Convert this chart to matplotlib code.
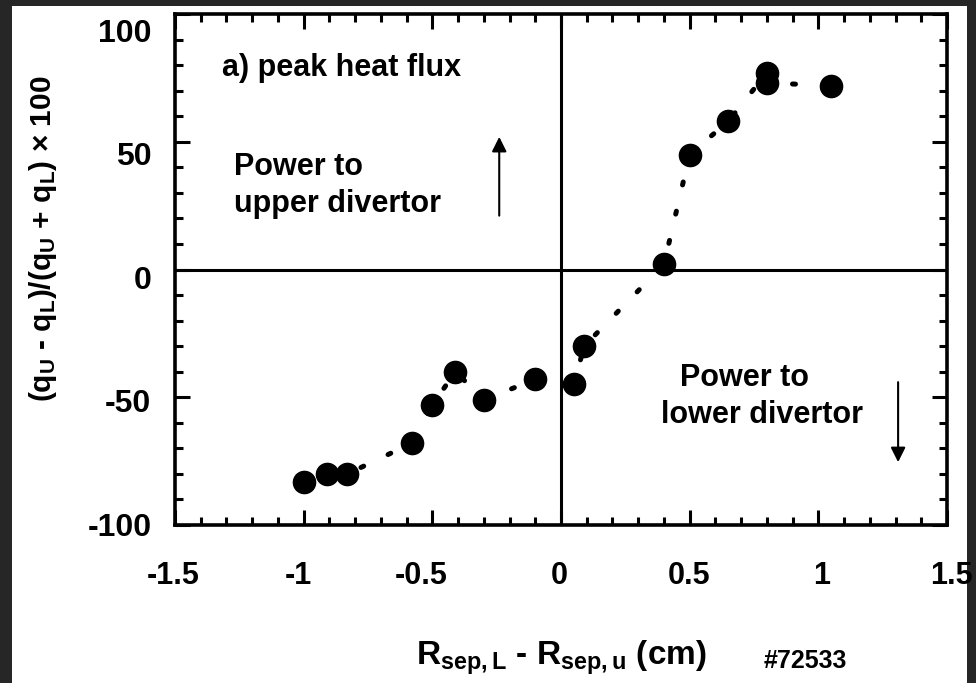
import matplotlib
matplotlib.use("Agg")
import matplotlib.pyplot as plt
import matplotlib.transforms as mtransforms
from matplotlib.patches import Rectangle
from matplotlib.ticker import MultipleLocator, FixedFormatter, FixedLocator

# data
r_sep_diff = [-1.0, -0.91, -0.83, -0.58, -0.5, -0.41, -0.3, -0.1, 0.05, 0.09,
              0.4, 0.5, 0.65, 0.8, 0.8, 1.05]
flux_asym = [-83, -80, -80, -68, -53, -40, -51, -43, -45, -30,
             2, 45, 58, 77, 73, 72]

x_ticks = [-1.5, -1, -0.5, 0, 0.5, 1, 1.5]
x_ticklabels = ["-1.5", "-1", "-0.5", "0", "0.5", "1", "1.5"]
y_ticks = [-100, -50, 0, 50, 100]
y_ticklabels = ["-100", "-50", "0", "50", "100"]

# the pasted-up labels in the original are slightly off their ticks (pixels)
x_label_nudge = [-2, -5, -11, -2, -1, 3, 4]
y_label_nudge = [0, -3, -8, -12, -16]

plt.rcParams['font.family'] = ['Liberation Sans', 'DejaVu Sans']
plt.rcParams['mathtext.fontset'] = 'custom'
plt.rcParams['mathtext.rm'] = 'Liberation Sans:bold'
plt.rcParams['mathtext.it'] = 'Liberation Sans:bold'
plt.rcParams['mathtext.bf'] = 'Liberation Sans:bold'

W, H = 976, 683
fig = plt.figure(figsize=(W / 100, H / 100), dpi=100, facecolor='#262626')

# white page on the dark backdrop
fig.patches.append(Rectangle((12 / W, 0), (967 - 12) / W, (H - 6) / H,
                             transform=fig.transFigure, facecolor='white',
                             edgecolor='none', zorder=-10))

ax = fig.add_axes([175 / W, (H - 525) / H, (947 - 175) / W, (525 - 14) / H])
ax.set_facecolor('white')

ax.axhline(0, color='black', lw=2.2, zorder=1)
ax.axvline(0, color='black', lw=2.2, zorder=1)

ax.plot(r_sep_diff, flux_asym, color='black', lw=3.6,
        linestyle=(0, (0.6, 5.4)), dash_capstyle='round', zorder=2)
ax.plot(r_sep_diff, flux_asym, 'o', color='black', ms=16, zorder=3)

ax.set_xlim(-1.5, 1.5)
ax.set_ylim(-100, 100)
ax.xaxis.set_major_locator(FixedLocator(x_ticks))
ax.xaxis.set_major_formatter(FixedFormatter(x_ticklabels))
ax.xaxis.set_minor_locator(MultipleLocator(0.1))
ax.yaxis.set_major_locator(FixedLocator(y_ticks))
ax.yaxis.set_major_formatter(FixedFormatter(y_ticklabels))
ax.yaxis.set_minor_locator(MultipleLocator(10))

ax.tick_params(which='both', direction='in', top=True, right=True, width=2.2)
ax.tick_params(which='major', length=11)
ax.tick_params(which='minor', length=6)
ax.tick_params(axis='x', which='major', labelsize=22, pad=26)
ax.tick_params(axis='y', which='major', labelsize=23, pad=17)

for lab, dx in zip(ax.get_xticklabels(), x_label_nudge):
    lab.set_transform(lab.get_transform() +
                      mtransforms.ScaledTranslation(dx / 100, 0, fig.dpi_scale_trans))
for lab, dy in zip(ax.get_yticklabels(), y_label_nudge):
    lab.set_transform(lab.get_transform() +
                      mtransforms.ScaledTranslation(0, dy / 100, fig.dpi_scale_trans))
for lab in ax.get_xticklabels() + ax.get_yticklabels():
    lab.set_fontweight('bold')
for sp in ax.spines.values():
    sp.set_linewidth(2.6)

ax.set_ylabel(r'(q$_\mathregular{U}$ - q$_\mathregular{L}$)/(q$_\mathregular{U}$ + q$_\mathregular{L}$) $\times$ 100',
              fontsize=21.5, fontweight='bold')
ax.yaxis.set_label_coords(-0.15, 0.56)
ax.set_xlabel(r'R$_\mathregular{sep,L}$ - R$_\mathregular{sep,u}$ (cm)',
              fontsize=24, fontweight='bold', labelpad=34)
fig.text(805 / W, 1 - 661 / H, '#72533', fontsize=18, fontweight='bold',
         ha='center', va='center')

ax.text(-1.317, 79, 'a) peak heat flux', fontsize=22, fontweight='bold',
        ha='left', va='center')
ax.text(-1.27, 40, 'Power to', fontsize=22, fontweight='bold', ha='left', va='center')
ax.text(-1.27, 25.5, 'upper divertor', fontsize=22, fontweight='bold', ha='left', va='center')
ax.text(0.713, -42.5, 'Power to', fontsize=22, fontweight='bold', ha='center', va='center')
ax.text(0.783, -57, 'lower divertor', fontsize=22, fontweight='bold', ha='center', va='center')

ax.annotate('', xy=(-0.24, 53), xytext=(-0.24, 20),
            arrowprops=dict(arrowstyle='-|>', color='black', lw=1.5, mutation_scale=22))
ax.annotate('', xy=(1.31, -76.5), xytext=(1.31, -43),
            arrowprops=dict(arrowstyle='-|>', color='black', lw=1.5, mutation_scale=22))

fig.savefig('out.png', dpi=100, facecolor=fig.get_facecolor())
